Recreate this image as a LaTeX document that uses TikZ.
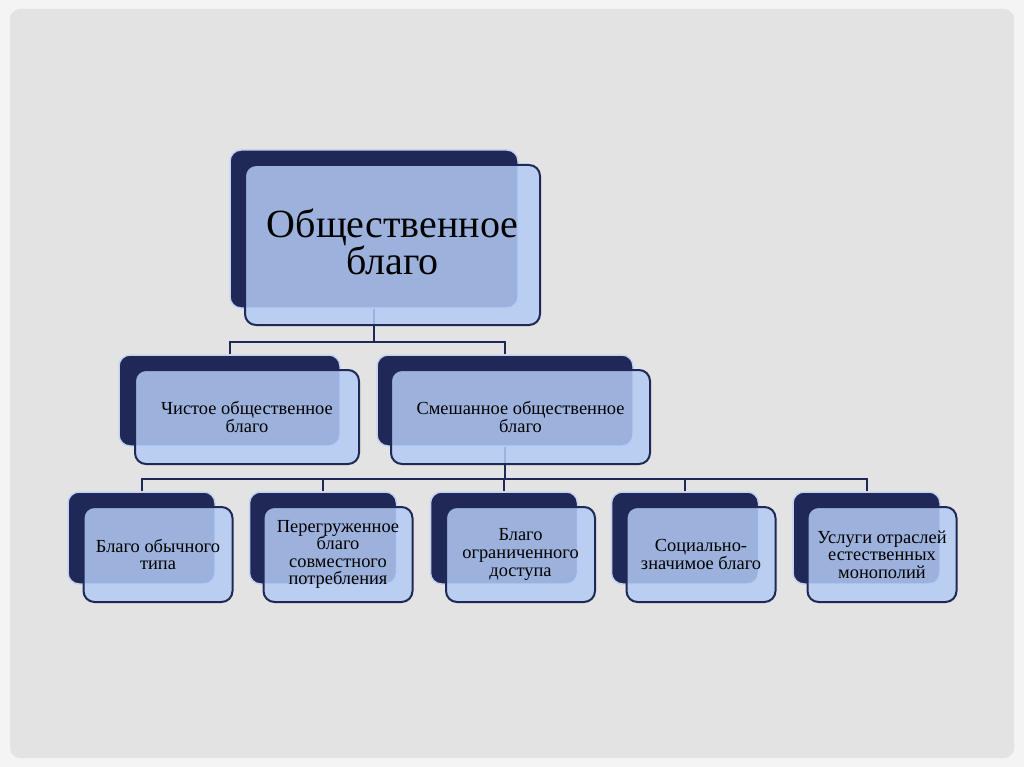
\documentclass[tikz,border=0pt]{standalone}
\usepackage{fontspec}
\setmainfont{Liberation Serif}
\pgfdeclarelayer{bg}
\pgfdeclarelayer{lines}
\pgfsetlayers{bg,lines,main}
\definecolor{navy}{HTML}{1F2857}
\definecolor{glow}{HTML}{C3D4F2}
\definecolor{frontfill}{HTML}{B3CBF5}
\definecolor{pagebg}{HTML}{E3E3E3}
\definecolor{outerbg}{HTML}{F4F4F4}
\tikzset{
  backbox/.style={draw=glow, line width=1.5pt, fill=navy, rounded corners=11pt, inner sep=0pt},
  frontbox/.style={draw=navy, line width=2pt, fill=frontfill, fill opacity=0.85, text opacity=1,
    rounded corners=11pt, align=center, inner sep=0pt, font=\fontsize{18.4}{17.6}\selectfont},
  bigtext/.style={font=\fontsize{40}{37}\selectfont},
  conn/.style={draw=navy, line width=2pt},
  l3back/.style={backbox, minimum width=147pt, minimum height=92pt},
  l3front/.style={frontbox, minimum width=149pt, minimum height=95pt},
}
\begin{document}
\begin{tikzpicture}[x=1pt,y=-1pt]
\useasboundingbox (0,0) rectangle (1024,767);
\begin{pgfonlayer}{bg}
  \fill[outerbg] (0,0) rectangle (1024,767);
  \fill[pagebg, rounded corners=10pt] (10,9) rectangle (1014,758);
\end{pgfonlayer}

% top
\node[backbox, minimum width=288pt, minimum height=158pt] (topB) at (374,229) {};
\node[frontbox, bigtext, minimum width=295pt, minimum height=160pt] (top) at (392.5,245) {Общественное\\благо\\[-30pt]\mbox{}};

% level 2
\node[backbox, minimum width=221pt, minimum height=91pt] (pureB) at (229.5,400.5) {};
\node[frontbox, minimum width=224pt, minimum height=94pt] (pure) at (247,417) {Чистое общественное\\благо};
\node[backbox, minimum width=256pt, minimum height=91pt] (mixB) at (505,400.5) {};
\node[frontbox, minimum width=259pt, minimum height=94pt] (mix) at (520.5,417) {Смешанное общественное\\благо};

% level 3
\node[l3back] (aB) at (141.5,538) {};
\node[l3front] (a) at (158,554.5) {Благо обычного\\типа};
\node[l3back] (bB) at (323,538) {};
\node[l3front] (b) at (338,554.5) {Перегруженное\\благо\\совместного\\потребления};
\node[l3back] (cB) at (504,538) {};
\node[l3front] (c) at (520.5,554.5) {Благо\\ограниченного\\доступа};
\node[l3back] (dB) at (685,538) {};
\node[l3front] (d) at (701,554.5) {Социально-\\значимое благо};
\node[l3back] (eB) at (866.5,538) {};
\node[l3front] (e) at (882,554.5) {Услуги отраслей\\естественных\\монополий};

\begin{pgfonlayer}{lines}
  \draw[conn] (topB.south) -- ++(0,33) coordinate (j1);
  \draw[conn] (j1) -| (pureB.north);
  \draw[conn] (j1) -| (mixB.north);
  \draw[conn] (mixB.south) -- ++(0,32) coordinate (j2);
  \foreach \n in {aB,bB,cB,dB,eB} {\draw[conn] (j2) -| (\n.north);}
\end{pgfonlayer}
\end{tikzpicture}
\end{document}
